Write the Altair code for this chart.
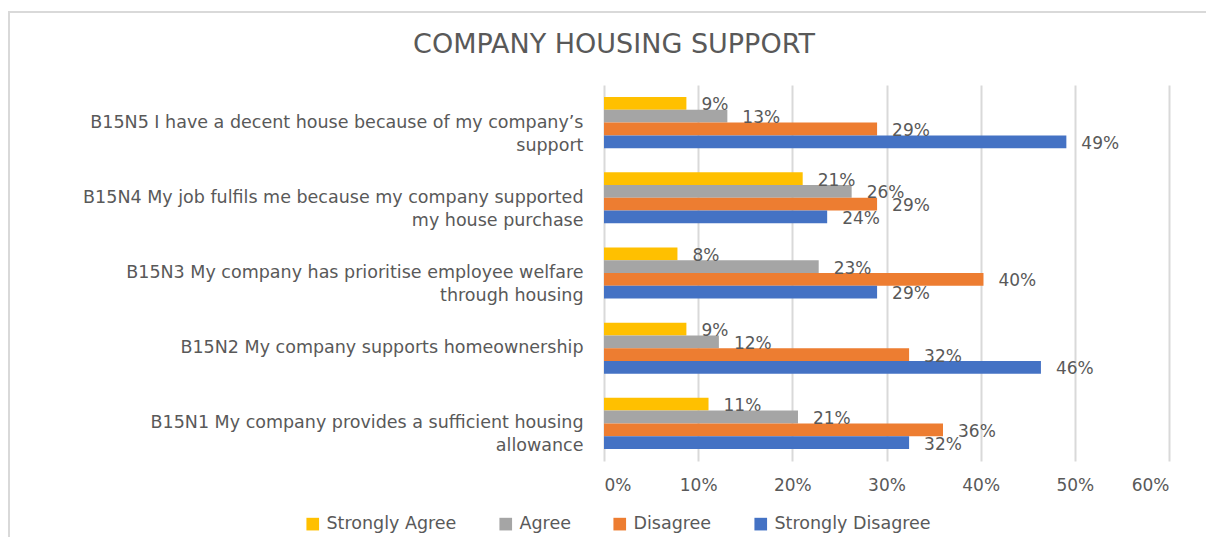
import altair as alt
import pandas as pd

# ---- data ----
category_lines = [
    ["B15N5 I have a decent house because of my company’s", "support"],
    ["B15N4 My job fulfils me because my company supported", "my house purchase"],
    ["B15N3 My company has prioritise employee welfare", "through housing"],
    ["B15N2 My company supports homeownership"],
    ["B15N1 My company provides a sufficient housing", "allowance"],
]
series = ["Strongly Agree", "Agree", "Disagree", "Strongly Disagree"]
colors = ["#FFC000", "#A5A5A5", "#ED7D31", "#4472C4"]

strongly_agree = [8.75, 21.1, 7.8, 8.75, 11.1]
agree = [13.1, 26.3, 22.8, 12.2, 20.6]
disagree = [29.0, 29.0, 40.3, 32.4, 36.0]
strongly_disagree = [49.1, 23.7, 29.0, 46.4, 32.4]

x_ticks = [0, 0.1, 0.2, 0.3, 0.4, 0.5, 0.6]
title_text = "COMPANY HOUSING SUPPORT"

# ---- table ----
categories = ["|".join(lines) for lines in category_lines]
rows = []
for s, vals in zip(series, [strongly_agree, agree, disagree, strongly_disagree]):
    for c, v in zip(categories, vals):
        rows.append({"category": c, "series": s, "value": v / 100.0})
df = pd.DataFrame(rows)

FONT = "DejaVu Sans"
TXT = "#595959"

base = alt.Chart(df).encode(
    y=alt.Y(
        "category:N",
        sort=categories,
        scale=alt.Scale(paddingInner=0.32, paddingOuter=0.16),
        axis=alt.Axis(
            title=None,
            labelExpr="split(datum.label, '|')",
            labelFont=FONT,
            labelFontSize=17.5,
            labelColor=TXT,
            labelPadding=21,
            labelLineHeight=23,
            labelLimit=0,
            ticks=False,
            domain=False,
        ),
    ),
    yOffset=alt.YOffset(
        "series:N", sort=series, scale=alt.Scale(paddingInner=0, paddingOuter=0)
    ),
)

bars = base.mark_bar().encode(
    x=alt.X(
        "value:Q",
        scale=alt.Scale(domain=[0, 0.6], nice=False),
        axis=alt.Axis(
            title=None,
            format=".0%",
            values=x_ticks,
            grid=True,
            gridColor="#D9D9D9",
            gridWidth=2,
            domain=False,
            ticks=False,
            labelFont=FONT,
            labelFontSize=17,
            labelColor=TXT,
            labelPadding=16,
        ),
    ),
    color=alt.Color(
        "series:N",
        sort=series,
        scale=alt.Scale(domain=series, range=colors),
        legend=alt.Legend(
            title=None,
            orient="none",
            direction="horizontal",
            legendX=-300,
            legendY=430,
            symbolType="square",
            symbolSize=160,
            symbolStrokeWidth=0,
            labelFont=FONT,
            labelFontSize=17.5,
            labelColor=TXT,
            labelOffset=5,
            columnPadding=40,
        ),
    ),
)

labels = base.mark_text(
    align="left", baseline="middle", dx=15, dy=2, font=FONT, fontSize=17, color=TXT
).encode(
    x=alt.X("value:Q"),
    text=alt.Text("value:Q", format=".0%"),
)

frame = alt.Chart(alt.Data(values=[{}])).mark_rect(
    fill=None, stroke="#D9D9D9", strokeWidth=2
).encode(
    x=alt.value(-595), x2=alt.value(700), y=alt.value(-73), y2=alt.value(520)
)

title = alt.Chart(alt.Data(values=[{"t": title_text}])).mark_text(
    font=FONT, fontSize=27, color=TXT, align="center", baseline="middle"
).encode(
    x=alt.value(10), y=alt.value(-40), text="t:N"
)

chart = (
    alt.layer(frame, title, bars, labels)
    .properties(
        width=565,
        height=376,
        padding={"left": 596, "top": 77, "right": 37, "bottom": 76},
        autosize="none",
    )
    .configure_view(stroke=None)
)

chart.save("out.html", embed_options={"renderer": "svg", "actions": False})
